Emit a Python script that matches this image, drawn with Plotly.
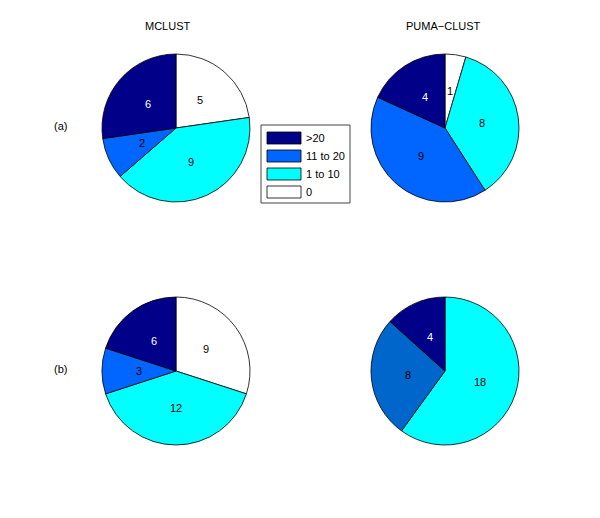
import math
import plotly.graph_objects as go

# the page body has an 8px margin: size the figure to fit inside the window
OFF = 8
W, H = 600 - OFF, 518 - OFF

categories = [">20", "11 to 20", "1 to 10", "0"]
mclust_a = [6, 2, 9, 5]
puma_a = [4, 9, 8, 1]
mclust_b = [6, 3, 12, 9]
puma_b = [4, 8, 18, 0]
column_titles = ["MCLUST", "PUMA\u2212CLUST"]
row_labels = ["(a)", "(b)"]

colors_std = ["#000088", "#0066ff", "#00ffff", "#ffffff"]
colors_alt = ["#000088", "#0066cc", "#00ffff", "#ffffff"]
text_colors = ["white", "black", "black", "black"]

FONT = "Liberation Sans, Arial, sans-serif"


def px(x):
    return (x - OFF) / W


def py(y):
    return 1 - (y - OFF) / H


# pie placement (pixel centers in window, radius)
pies = [
    (mclust_a, colors_std, 176, 128),
    (puma_a, colors_std, 445, 128),
    (mclust_b, colors_std, 176, 371),
    (puma_b, colors_alt, 445, 371),
]
R = 74

fig = go.Figure()
annotations = []
for vals, cols, cx, cy in pies:
    # slices run counter-clockwise from 12 o'clock in category order;
    # equivalently clockwise from 12 o'clock in reversed order
    fig.add_trace(go.Pie(
        values=vals[::-1], labels=categories[::-1], sort=False, direction="clockwise",
        rotation=0, marker=dict(colors=cols[::-1], line=dict(color="black", width=0.8)),
        textinfo="none", hoverinfo="label+value", showlegend=False,
        domain=dict(x=[px(cx - R), px(cx + R)], y=[py(cy + R), py(cy - R)]),
    ))
    total = sum(vals)
    cum = 0
    for v, tc in zip(vals, text_colors):
        if v > 0:
            a = math.radians((cum + v / 2) / total * 360)
            x = cx - 0.5 * R * math.sin(a)
            y = cy - 0.5 * R * math.cos(a)
            annotations.append(dict(x=px(x), y=py(y), xref="paper", yref="paper",
                                    xanchor="center", yanchor="middle",
                                    text=str(v), showarrow=False,
                                    font=dict(size=11, color=tc, family=FONT)))
        cum += v

# titles
for t, cx in zip(column_titles, [168, 443]):
    annotations.append(dict(x=px(cx), y=py(26), xref="paper", yref="paper", text=t,
                            xanchor="center", yanchor="middle",
                            showarrow=False, font=dict(size=11, color="black", family=FONT)))
for t, cy in zip(row_labels, [126, 369]):
    annotations.append(dict(x=px(60), y=py(cy), xref="paper", yref="paper", text=t,
                            xanchor="center", yanchor="middle",
                            showarrow=False, font=dict(size=11, color="black", family=FONT)))

# legend box
shapes = [dict(type="rect", xref="paper", yref="paper",
               x0=px(261), x1=px(350), y0=py(203), y1=py(125),
               line=dict(color="#444444", width=1), fillcolor="white", layer="below")]
row_y = [138, 156, 174, 192]
for cat, col, ry in zip(categories, colors_std, row_y):
    shapes.append(dict(type="rect", xref="paper", yref="paper",
                       x0=px(267), x1=px(301), y0=py(ry + 6), y1=py(ry - 6),
                       line=dict(color="black", width=0.8), fillcolor=col))
    annotations.append(dict(x=px(304), y=py(ry), xref="paper", yref="paper", text=cat,
                            xanchor="left", yanchor="middle", showarrow=False,
                            font=dict(size=11, color="black", family=FONT)))

fig.update_layout(width=W, height=H, margin=dict(l=0, r=0, t=0, b=0),
                  paper_bgcolor="white", plot_bgcolor="white",
                  annotations=annotations, shapes=shapes)
fig.write_html("out.html")
